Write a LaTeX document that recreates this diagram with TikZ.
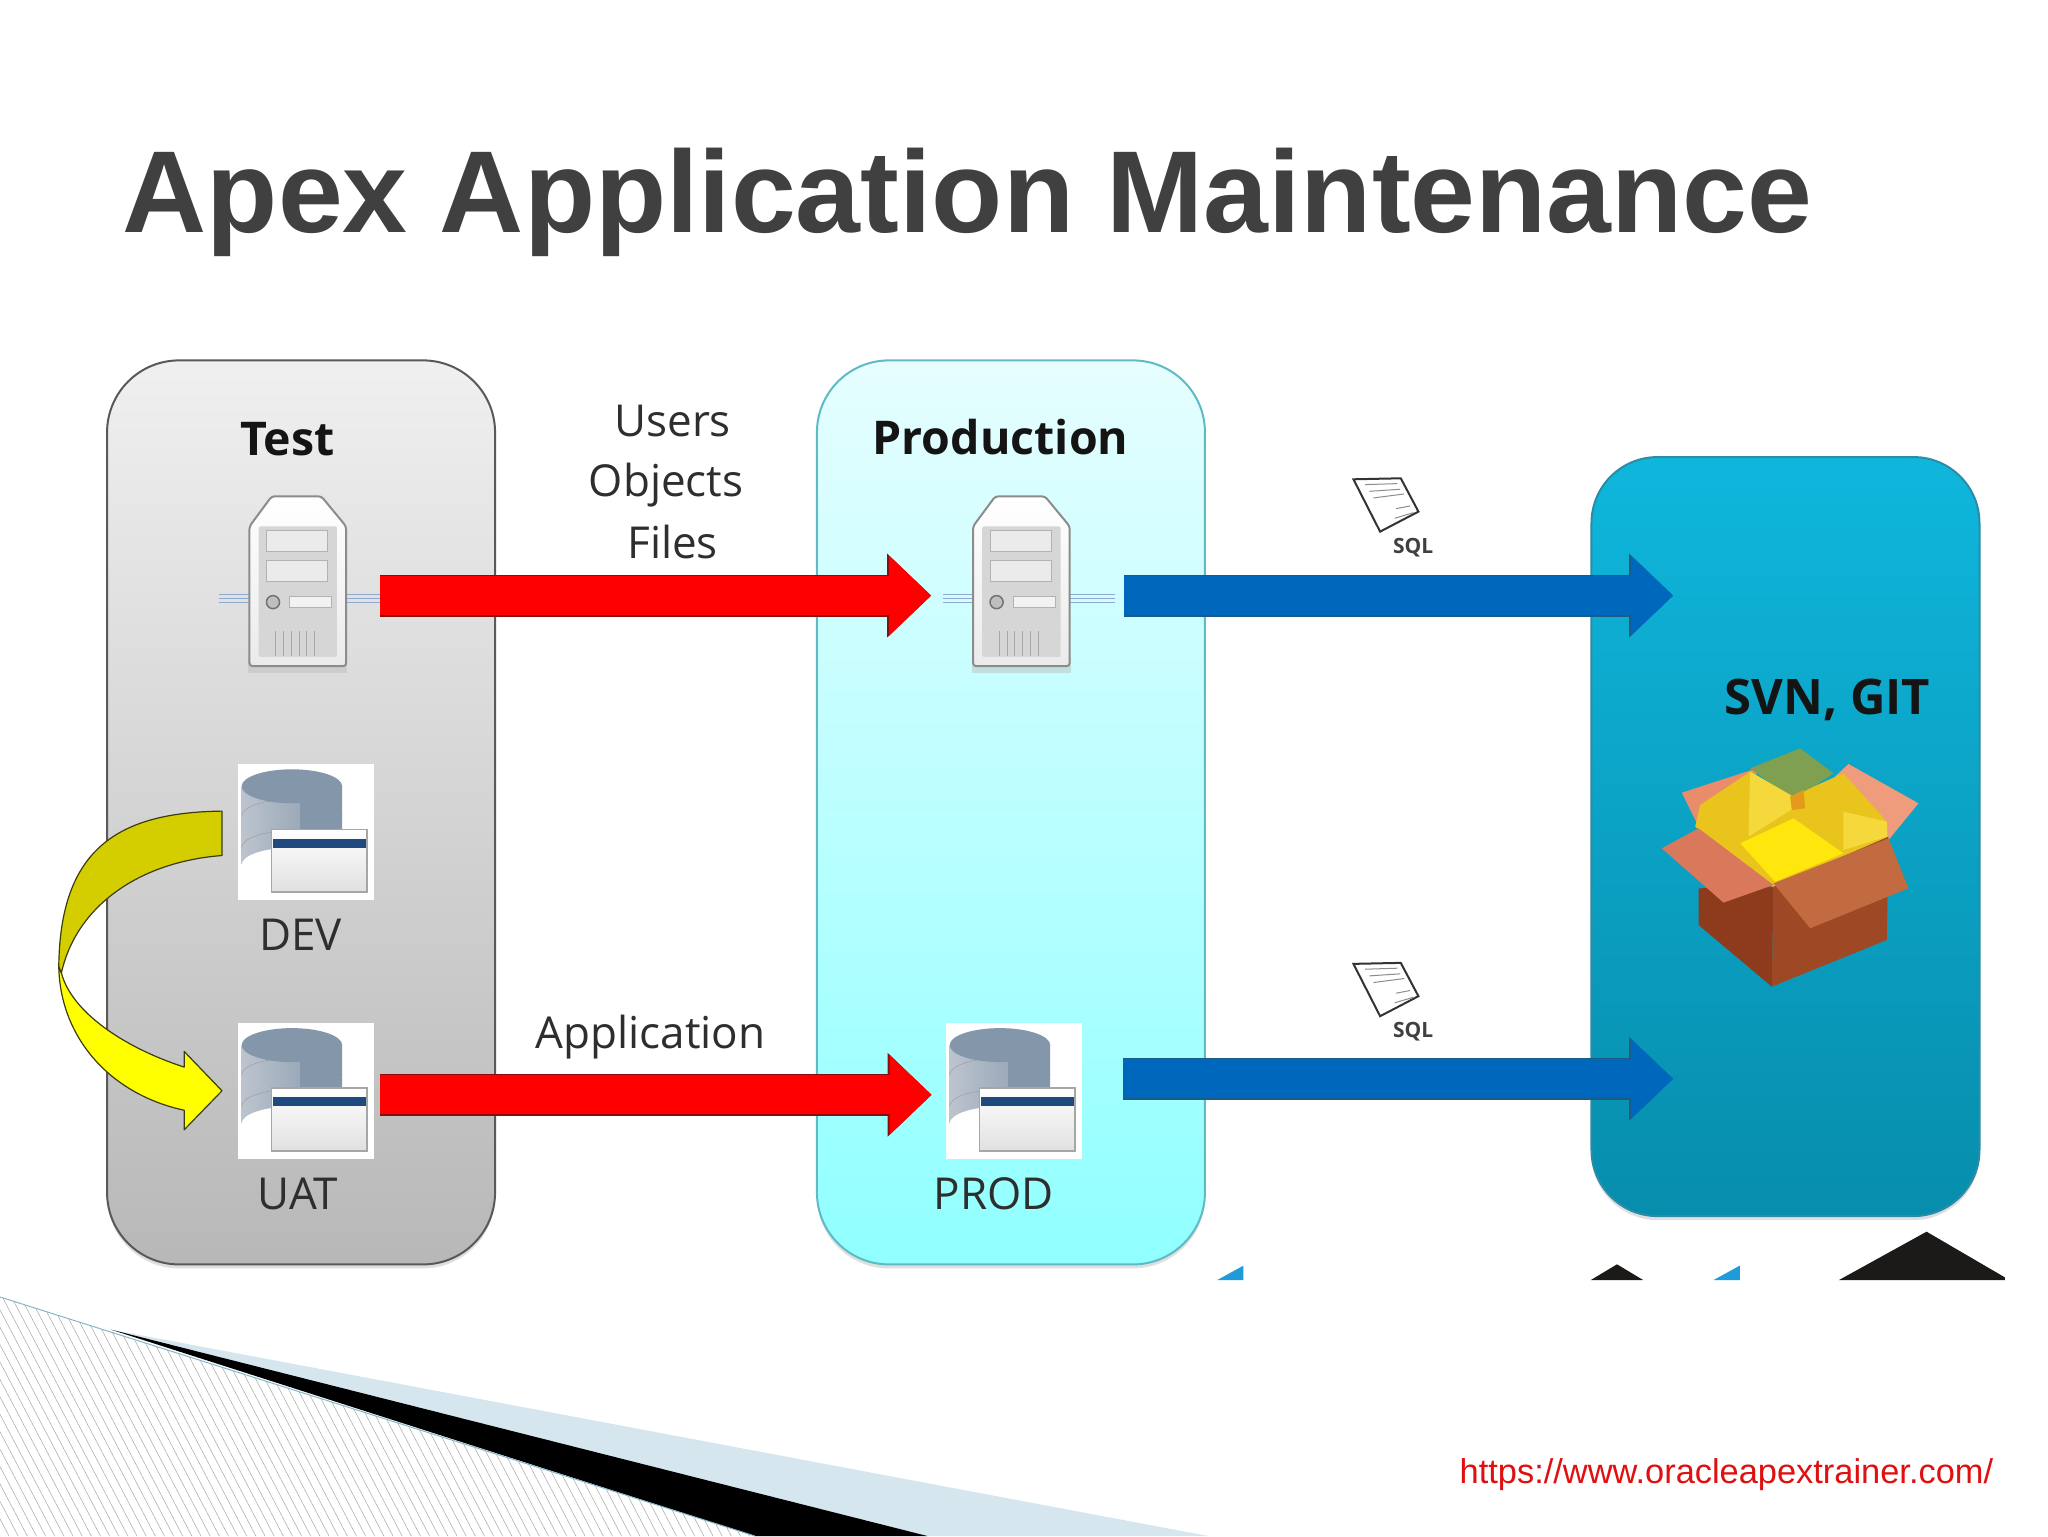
\documentclass[tikz,border=0pt]{standalone}
\usepackage{fontspec}
\setmainfont{Open Sans}
\newfontfamily\arialfont{Liberation Sans}
\usetikzlibrary{arrows.meta,positioning,shadows,calc}

\definecolor{titlegray}{HTML}{404040}
\definecolor{urlred}{HTML}{E01010}
\definecolor{arrowred}{HTML}{FF0000}
\definecolor{arrowreddark}{HTML}{8A0C0C}
\definecolor{arrowblue}{HTML}{0068BC}
\definecolor{arrowbluedark}{HTML}{1B5C86}
\definecolor{yellowdark}{HTML}{D4CE00}
\definecolor{yellowlight}{HTML}{FFFF00}
\definecolor{yellowedge}{HTML}{3C3C10}
\definecolor{hatchblue}{HTML}{86B6CC}
\definecolor{wedgeblue}{HTML}{D6E6EF}
\definecolor{cutblue}{HTML}{1E9BD8}
\definecolor{cutblack}{HTML}{1C1A18}
\definecolor{stubblue}{HTML}{8FA9CF}
\definecolor{prodedge}{HTML}{5FBAC4}
\definecolor{prodtop}{HTML}{E6FEFF}
\definecolor{prodbottom}{HTML}{90FFFF}
\definecolor{svnedge}{HTML}{2A8CA6}
\definecolor{svntop}{HTML}{0FB6DC}
\definecolor{svnbottom}{HTML}{078DAC}
\definecolor{slatetop}{HTML}{8496AA}
\definecolor{silverleft}{HTML}{BCC4CE}
\definecolor{silvermid}{HTML}{DDE2E9}
\definecolor{barnavy}{HTML}{1F4A80}
\definecolor{boxback}{HTML}{E88C6C}
\definecolor{boxgreen}{HTML}{7FA050}
\definecolor{boxsalmon}{HTML}{EF9C7C}
\definecolor{boxgold}{HTML}{E8C41C}
\definecolor{boxpale}{HTML}{F4D83C}
\definecolor{boxyellow}{HTML}{FFE60C}
\definecolor{boxorange}{HTML}{E49A1C}
\definecolor{boxbrown}{HTML}{8E3A1C}
\definecolor{boxbrownlight}{HTML}{9E4826}
\definecolor{boxflapleft}{HTML}{D9785A}
\definecolor{boxflapright}{HTML}{C26A40}

\tikzset{
    % tower server, drawn round the middle of its case
    servericon/.pic={
        \fill[black!25, opacity=0.5] (-38,58) rectangle (38,70);
        \foreach \sy in {10,13,16} {
            \draw[stubblue, line width=1.2pt] (-60,\sy) -- (72,\sy);
        }
        \draw[black!45, line width=2pt, top color=white, bottom color=black!8, rounded corners=3pt]
            (-37,65) -- (-37,-42) -- (-20,-65) -- (18,-65) -- (37,-42) -- (37,65) -- cycle;
        \fill[black!16, rounded corners=2pt] (-30,-42) rectangle (30,58);
        \foreach \sy in {-39,-16} {
            \draw[black!30, fill=black!8, line width=1pt] (-24,\sy) rectangle (23,\sy+16);
        }
        \draw[black!55, fill=black!25, line width=1.5pt] (-19,16) circle (5);
        \draw[black!30, fill=black!5, line width=1pt] (-6,12) rectangle (26,20);
        \foreach \vx in {-17,-11,-5,1,7,13} {
            \draw[black!35, line width=1pt] (\vx,38) -- (\vx,57);
        }
    },
    % database with a small window in front of it
    dbicon/.pic={
        \path[left color=silverleft, middle color=silvermid, right color=slatetop]
            (-49,-35) -- (-49,25) arc[start angle=180, end angle=360, x radius=38.5, y radius=13]
            -- (28,-35) -- cycle;
        \foreach \dy in {-12,12} {
            \draw[black!40] (-49,\dy) arc[start angle=180, end angle=360, x radius=38.5, y radius=13];
        }
        \fill[slatetop] (-10.5,-35) ellipse[x radius=38.5, y radius=13];
        \fill[slatetop] (-4,-30) rectangle (28,-2);
        \draw[black!35, line width=1.5pt, top color=white, bottom color=black!12] (-26,-2) rectangle (47,46);
        \fill[barnavy] (-25,5) rectangle (46,12);
    },
    % sheet of paper, local units are a third of a pixel
    sqlicon/.pic={
        \begin{scope}[x=0.3333pt,y=-0.3333pt]
            \draw[black!80, fill=white, line width=2pt] (100,88) -- (242,85) -- (295,185) -- (180,245) -- cycle;
            \draw[black!45, line width=1pt] (135,104) -- (232,101) (148,124) -- (240,118) (160,144) -- (252,132);
            \draw[black!45, line width=1pt] (228,176) -- (270,168) (224,205) -- (280,188);
        \end{scope}
    }
}

\begin{document}
\begin{tikzpicture}[
    x=1.3061pt, y=-1.3061pt,
    every node/.style={text=black, inner sep=0pt, outer sep=0pt},
    panel/.style={rectangle, rounded corners=72pt, minimum width=388pt, line width=2pt,
        drop shadow={shadow xshift=0pt, shadow yshift=-4pt, opacity=0.25}},
    testpanel/.style={panel, minimum height=904pt, draw=black!65, top color=black!6, bottom color=black!28},
    prodpanel/.style={panel, minimum height=904pt, draw=prodedge, top color=prodtop, bottom color=prodbottom},
    svnpanel/.style={panel, minimum height=759pt, rounded corners=66pt, draw=svnedge, top color=svntop, bottom color=svnbottom},
    paneltitle/.style={font=\bfseries\fontsize{46.5}{50}\selectfont, text=black!92},
    lbl/.style={font=\fontsize{44}{48}\selectfont, text=black!82},
    sqllbl/.style={font=\bfseries\fontsize{21}{24}\selectfont, text=black!75},
    dbbox/.style={rectangle, fill=white, minimum size=136pt, outer sep=6.5pt},
    srvbox/.style={rectangle, minimum width=164.6pt, minimum height=20pt},
    redarrow/.style={line width=39pt, arrowred, -{Triangle[length=42pt,width=77pt]},
        preaction={draw=arrowreddark, line width=42pt, -{Triangle[length=44pt,width=81pt]}}},
    bluearrow/.style={line width=39pt, arrowblue, -{Triangle[length=42pt,width=77pt]},
        preaction={draw=arrowbluedark, line width=42pt, -{Triangle[length=44pt,width=81pt]}}},
    bendarrow/.style={draw=yellowedge, line width=1.2pt, line join=round},
    hatchline/.style={black!35, line width=0.5pt}
]

\useasboundingbox (0,0) rectangle (1568,1176);
\fill[white] (0,0) rectangle (1568,1176);

% Title
\node[anchor=base west, font=\arialfont\bfseries\fontsize{116.5}{120}\selectfont, text=titlegray] (title) at (94,178) {Apex Application Maintenance};

% Bottom corner
\fill[wedgeblue] (85,1018) -- (925,1176) -- (578,1176) -- cycle;
\fill[black] (85,1018) -- (710,1176) -- (578,1176) -- cycle;
\begin{scope}
    \clip (0,993) -- (578,1176) -- (0,1176) -- cycle;
    \foreach \hx in {-110,-103,...,580} {
        \draw[hatchline] (\hx,980) -- ++(105,200);
    }
\end{scope}
\draw[hatchblue, line width=1pt] (0,993) -- (578,1176);

% Cut off shapes under the panels
\fill[cutblue] (932,980) -- (952,969) -- (952,980) -- cycle;
\fill[cutblue] (1312,980) -- (1332,969) -- (1332,980) -- cycle;
\fill[cutblack] (1218,980) -- (1238,968) -- (1258,980) -- cycle;
\fill[cutblack] (1408,980) -- (1475,943) -- (1535,978) -- (1535,980) -- cycle;

% Panels
\node[testpanel] (testpanel) at (230.5,622) {};
\node[prodpanel] (prodpanel) at (774,622) {};
\node[svnpanel] (svnpanel) at (1367,640.5) {};

\node[paneltitle] (testtitle) at (220,336) {Test};
\node[paneltitle] (prodtitle) at (766,335) {Production};
\node[paneltitle, font=\bfseries\fontsize{49}{54}\selectfont] (svntitle) at (1399,536) {SVN, GIT};

% Servers
\node[srvbox] (testsrv) at (228,456) {};
\node[srvbox] (prodsrv) at (788,456) {};
\pic at (228,445) {servericon};
\pic at (782,445) {servericon};

% Databases
\node[dbbox] (devdb) at (234,637) {};
\node[dbbox, below=109.8pt of devdb] (uatdb) {};
\node[dbbox, right=559pt of uatdb] (proddb) {};
\pic at (devdb) {dbicon};
\pic at (uatdb) {dbicon};
\pic at (proddb) {dbicon};

\node[lbl] (devlbl) at (230,716) {DEV};
\node[lbl] (uatlbl) at (228,914) {UAT};
\node[lbl] (prodlbl) at (761,914) {PROD};

% Labels over the red arrows
\node[lbl] (users) at (515,322) {Users};
\node[lbl] (objects) at (510,371) {Objects};
\node[lbl] (files) at (515,415) {Files};
\node[lbl] (applbl) at (498,794) {Application};

% Scripts
\pic at (1010.7,344.5) {sqlicon};
\pic at (1010.7,715.5) {sqlicon};
\node[sqllbl] (sqltop) at (1082,419) {SQL};
\node[sqllbl] (sqlbottom) at (1082,790) {SQL};

% Red arrows
\draw[redarrow, shorten >=15.7pt] (testsrv) -- (prodsrv);
\draw[redarrow, shorten >=7.5pt] ([yshift=-4pt]uatdb.east) -- ([yshift=-4pt]proddb.west);

% Blue arrows
\coordinate (svntip) at (1281,456);
\coordinate (svnlow) at (1281,826);
\draw[bluearrow, shorten <=12pt] (prodsrv.east) -- (svntip);
\draw[bluearrow, shorten <=35pt] (proddb.east |- svnlow) -- (svnlow);

% Yellow arrow from DEV to UAT
\draw[bendarrow, fill=yellowlight] (45,740)
    .. controls (46,795) and (85,838) .. (141,850) -- (141,865)
    -- ($(uatdb.west)+(-7,0)$) -- (141,805) -- (141,817)
    .. controls (95,802) and (55,775) .. (47,745) -- cycle;
\draw[bendarrow, fill=yellowdark] ($(devdb.west)+(-7,-16)$)
    .. controls (90,622) and (46,650) .. (45,740) -- (47,745)
    .. controls (58,695) and (105,660) .. ($(devdb.west)+(-7,18)$) -- cycle;

% Package box
\begin{scope}[shift={(1194.5,490)}, x=0.3333pt, y=-0.3333pt]
    \fill[boxback] (365,458) -- (590,385) -- (570,600) -- (420,570) -- cycle;
    \fill[boxgreen] (570,385) -- (720,325) -- (820,400) -- (700,480) -- cycle;
    \fill[boxsalmon] (865,372) -- (1075,490) -- (985,600) -- (760,470) -- cycle;
    \fill[boxgold] (420,495) -- (570,395) -- (700,470) -- (760,440) -- (850,400) -- (980,545) -- (985,605) -- (640,745) -- (405,560) -- cycle;
    \fill[boxpale] (570,395) -- (690,465) -- (700,505) -- (565,590) -- cycle;
    \fill[boxpale] (850,515) -- (980,545) -- (980,590) -- (850,630) -- cycle;
    \fill[boxyellow] (540,610) -- (700,535) -- (850,640) -- (645,725) -- cycle;
    \fill[boxorange] (690,470) -- (730,450) -- (735,505) -- (695,510) -- cycle;
    \fill[boxbrown] (415,745) -- (640,740) -- (635,1040) -- (415,855) -- cycle;
    \fill[boxbrownlight] (640,740) -- (985,590) -- (980,900) -- (635,1040) -- cycle;
    \fill[boxflapleft] (305,625) -- (415,565) -- (640,735) -- (490,788) -- cycle;
    \fill[boxflapright] (640,730) -- (985,595) -- (1045,745) -- (750,865) -- cycle;
\end{scope}

% Address
\node[anchor=base east, font=\arialfont\fontsize{34.4}{38}\selectfont, text=urlred] (urllbl) at (1526,1136) {https://www.oracleapextrainer.com/};

\end{tikzpicture}
\end{document}
